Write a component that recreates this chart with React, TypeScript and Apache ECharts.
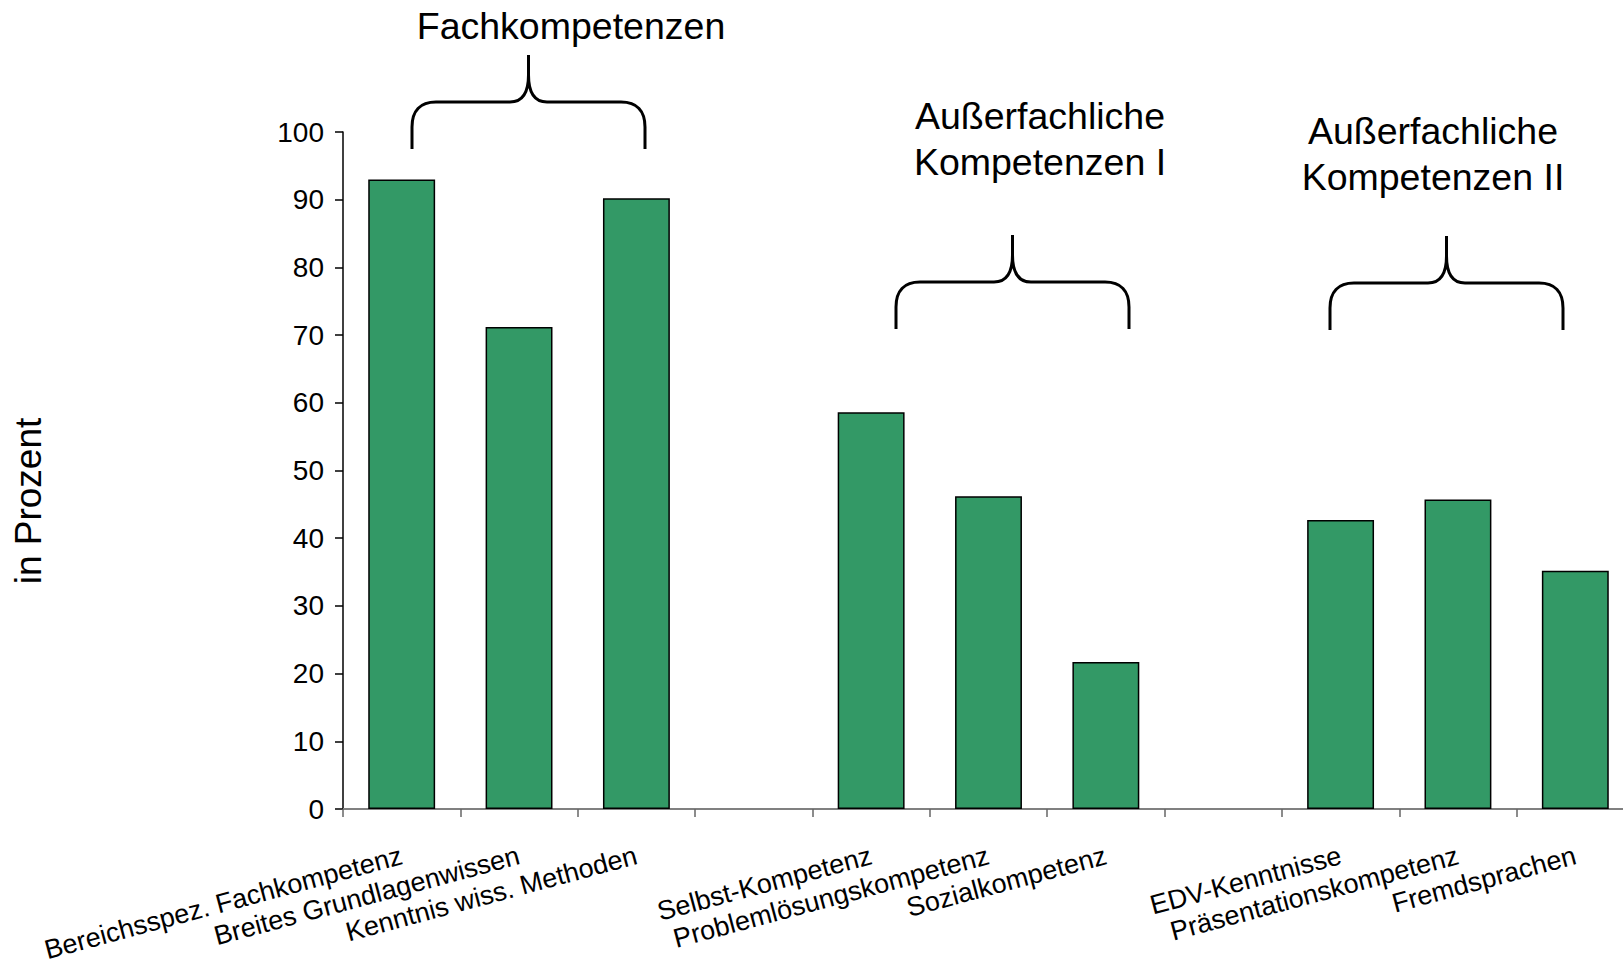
import React, { useEffect, useRef } from "react";
import * as echarts from "echarts";

const categories = [
  "Bereichsspez. Fachkompetenz",
  "Breites Grundlagenwissen",
  "Kenntnis wiss. Methoden",
  "",
  "Selbst-Kompetenz",
  "Problemlösungskompetenz",
  "Sozialkompetenz",
  "",
  "EDV-Kenntnisse",
  "Präsentationskompetenz",
  "Fremdsprachen",
];
const values = [93.0, 71.2, 90.2, null, 58.6, 46.2, 21.7, null, 42.7, 45.7, 35.2];
const groupTitles = ["Fachkompetenzen", "Außerfachliche\nKompetenzen I", "Außerfachliche\nKompetenzen II"];
const yTicks = { min: 0, max: 100, interval: 10 };
const yName = "in Prozent";

const BRACE_D =
  "M0,94 L0,72 C0,56 8,47 24,47 L98,47 C110,47 116.5,38 116.5,20 L116.5,0 " +
  "M116.5,20 C116.5,38 123,47 135,47 L209,47 C225,47 233,56 233,72 L233,94";

let registered = false;
function ensureShape() {
  if (registered) return;
  echarts.graphic.registerShape("brace", echarts.graphic.extendPath(BRACE_D, {}) as any);
  registered = true;
}

const FONT = '"Liberation Sans", Arial, sans-serif';

export default function App() {
  const ref = useRef<HTMLDivElement>(null);
  useEffect(() => {
    if (!ref.current) return;
    ensureShape();
    const chart = echarts.init(ref.current, undefined, { renderer: "svg" });
    const braceStyle = { fill: "none", stroke: "#000", lineWidth: 3 };
    chart.setOption({
      animation: false,
      backgroundColor: "#fff",
      grid: {
        left: 343,
        top: 132,
        width: 1291,
        height: 677,
        containLabel: false,
        outerBoundsMode: "none",
      },
      xAxis: {
        type: "category",
        data: categories,
        boundaryGap: true,
        axisLine: { show: true, lineStyle: { color: "#808080", width: 2 } },
        axisTick: { show: true, length: 8, lineStyle: { color: "#666", width: 1.5 } },
        axisLabel: {
          interval: 0,
          rotate: 15,
          margin: 46,
          color: "#000",
          fontSize: 27,
          fontFamily: FONT,
        },
        splitLine: { show: false },
      },
      yAxis: {
        type: "value",
        min: yTicks.min,
        max: yTicks.max,
        interval: yTicks.interval,
        axisLine: { show: true, lineStyle: { color: "#000", width: 1.5 } },
        axisTick: { show: true, length: 8, lineStyle: { color: "#000", width: 1.5 } },
        axisLabel: { margin: 19, color: "#000", fontSize: 28, fontFamily: FONT },
        splitLine: { show: false },
      },
      series: [
        {
          type: "bar",
          data: values,
          barWidth: "57%",
          itemStyle: { color: "#339966", borderColor: "#000", borderWidth: 1.5 },
        },
      ],
      graphic: [
        {
          type: "text",
          x: 28,
          y: 501,
          rotation: Math.PI / 2,
          style: {
            text: yName,
            x: 0,
            y: 0,
            align: "center",
            verticalAlign: "middle",
            font: `37px ${FONT}`,
            fill: "#000",
          },
        },
        {
          type: "text",
          style: {
            text: groupTitles[0],
            x: 571,
            y: 26,
            align: "center",
            verticalAlign: "middle",
            font: `37.5px ${FONT}`,
            fill: "#000",
          },
        },
        {
          type: "text",
          style: {
            text: groupTitles[1],
            x: 1040,
            y: 139,
            align: "center",
            verticalAlign: "middle",
            font: `37.5px ${FONT}`,
            lineHeight: 46,
            fill: "#000",
          },
        },
        {
          type: "text",
          style: {
            text: groupTitles[2],
            x: 1433,
            y: 154,
            align: "center",
            verticalAlign: "middle",
            font: `37.5px ${FONT}`,
            lineHeight: 46,
            fill: "#000",
          },
        },
        { type: "brace", x: 412, y: 55, style: braceStyle },
        { type: "brace", x: 896, y: 235, style: braceStyle },
        { type: "brace", x: 1330, y: 236, style: braceStyle },
      ],
    });
    return () => chart.dispose();
  }, []);
  return (
    <div
      ref={ref}
      style={{ position: "fixed", left: 0, top: 0, width: 1623, height: 961, background: "#fff" }}
    />
  );
}
